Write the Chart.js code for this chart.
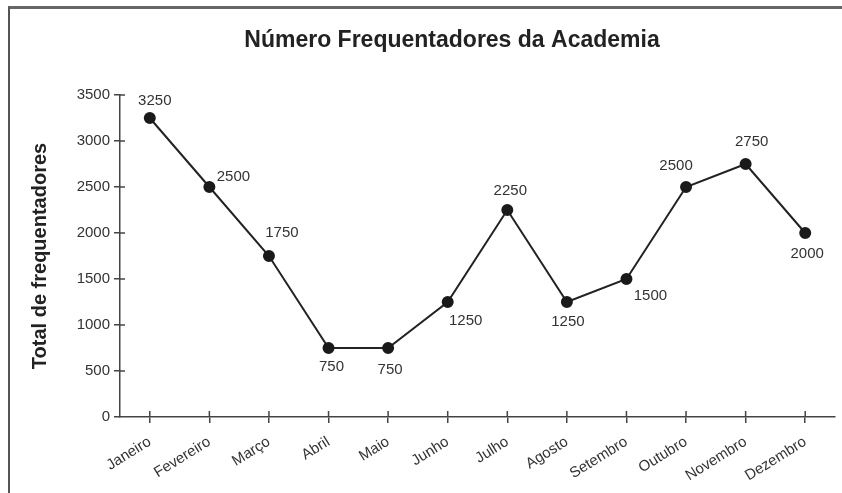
<!DOCTYPE html>
<html>
<head>
<meta charset="utf-8">
<script src="https://cdn.jsdelivr.net/npm/chart.js@4.4.1/dist/chart.umd.min.js"></script>
<style>
    html, body { margin: 0; padding: 0; background: #fff; }
    #wrap { position: relative; width: 842px; height: 493px; overflow: hidden; }
    #frame {
        position: absolute; left: 8px; top: 6px; width: 900px; height: 600px;
        border-left: 2px solid #555; border-top: 3px solid #666;
        pointer-events: none;
    }
    canvas { position: absolute; left: 0; top: 0; }
</style>
</head>
<body>
<div id="wrap">
    <canvas id="chart" width="842" height="493"></canvas>
    <div id="frame"></div>
</div>
<script>
const chartTitle = "Número Frequentadores da Academia";
const months = ["Janeiro", "Fevereiro", "Março", "Abril", "Maio", "Junho",
    "Julho", "Agosto", "Setembro", "Outubro", "Novembro", "Dezembro"];
const visitors = [3250, 2500, 1750, 750, 750, 1250, 2250, 1250, 1500, 2500, 2750, 2000];
const yTicks = [0, 500, 1000, 1500, 2000, 2500, 3000, 3500];

// where each value label sits relative to its point (dx, dy)
const labelOffsets = [[5, -17], [24, -10], [13, -23], [3, 19], [2, 22], [18, 19],
    [3, -19], [1, 20], [24, 17], [-10, -21], [6, -22], [2, 21]];

const FONT = "'Liberation Sans', Arial, sans-serif";
const INK = "#333";

// title is centred a bit right of the canvas middle, like the original
const titleText = {
    id: "titleText",
    afterDraw(chart) {
        const ctx = chart.ctx;
        ctx.save();
        ctx.font = "bold 23px " + FONT;
        ctx.fillStyle = "#222";
        ctx.textAlign = "center";
        ctx.textBaseline = "middle";
        ctx.fillText(chartTitle, 452, 41);
        ctx.restore();
    }
};

// value labels beside the points
const valueLabels = {
    id: "valueLabels",
    afterDatasetsDraw(chart) {
        const ctx = chart.ctx;
        const meta = chart.getDatasetMeta(0);
        ctx.save();
        ctx.font = "15px " + FONT;
        ctx.fillStyle = INK;
        ctx.textAlign = "center";
        ctx.textBaseline = "middle";
        meta.data.forEach((pt, i) => {
            const off = labelOffsets[i];
            ctx.fillText(String(visitors[i]), pt.x + off[0], pt.y + off[1]);
        });
        ctx.restore();
    }
};

// inner half of the tick marks, so they cross the axis lines
const crossTicks = {
    id: "crossTicks",
    afterDraw(chart) {
        const ctx = chart.ctx;
        const xs = chart.scales.x;
        const ys = chart.scales.y;
        ctx.save();
        ctx.strokeStyle = "#444";
        ctx.lineWidth = 1.5;
        ctx.beginPath();
        xs.ticks.forEach((t, i) => {
            const px = xs.getPixelForTick(i);
            ctx.moveTo(px, xs.top);
            ctx.lineTo(px, xs.top - 6);
        });
        ys.ticks.forEach((t, i) => {
            if (t.value === 0) return;
            const py = ys.getPixelForTick(i);
            ctx.moveTo(ys.right, py);
            ctx.lineTo(ys.right + 5, py);
        });
        ctx.stroke();
        ctx.restore();
    }
};

new Chart(document.getElementById("chart"), {
    type: "line",
    data: {
        labels: months,
        datasets: [{
            data: visitors,
            borderColor: "#222",
            borderWidth: 2,
            pointBackgroundColor: "#1a1a1a",
            pointBorderColor: "#1a1a1a",
            pointRadius: 5,
            tension: 0,
            clip: false
        }]
    },
    options: {
        responsive: false,
        animation: false,
        layout: { padding: { left: 0, right: 4, top: 95, bottom: 0 } },
        plugins: {
            legend: { display: false },
            tooltip: { enabled: false },
            title: { display: false }
        },
        scales: {
            x: {
                offset: true,
                grid: { display: true, drawOnChartArea: false, drawTicks: true, tickLength: 6, color: "#444", lineWidth: 1.5 },
                border: { display: true, color: "#444", width: 1.5 },
                ticks: {
                    color: INK,
                    font: { family: FONT, size: 15 },
                    minRotation: 32,
                    maxRotation: 32,
                    padding: 10
                },
                afterFit(scale) { scale.height = 76; }
            },
            y: {
                min: 0,
                max: 3500,
                afterBuildTicks(scale) {
                    scale.ticks = yTicks.map(v => ({ value: v }));
                },
                grid: { display: true, drawOnChartArea: false, drawTicks: true, tickLength: 6, color: "#444", lineWidth: 1.5 },
                border: { display: true, color: "#444", width: 1.5 },
                ticks: {
                    color: INK,
                    font: { family: FONT, size: 15 },
                    padding: 4,
                    callback: v => String(v)
                },
                title: {
                    display: true,
                    text: "Total de frequentadores",
                    color: "#222",
                    font: { family: FONT, size: 20, weight: "bold" },
                    padding: { top: 28, bottom: 0 }
                },
                afterFit(scale) { scale.width = 120; }
            }
        }
    },
    plugins: [titleText, valueLabels, crossTicks]
});
</script>
</body>
</html>
